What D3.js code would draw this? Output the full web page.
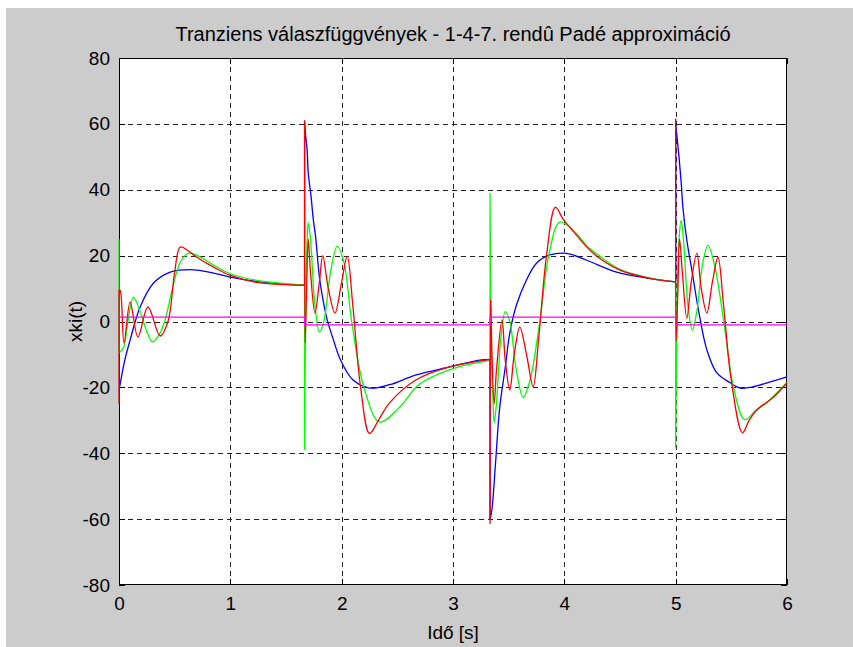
<!DOCTYPE html>
<html>
<head>
<meta charset="utf-8">
<script src="https://cdn.jsdelivr.net/npm/d3@7"></script>
<style>
  body { margin: 0; background: #fff; }
  text { font-family: "Liberation Sans", Arial, sans-serif; fill: #000; }
</style>
</head>
<body>
<svg id="chart" width="853" height="647"></svg>
<script>
// tick values
const xTicks = [0, 1, 2, 3, 4, 5, 6];
const yTicks = [-80, -60, -40, -20, 0, 20, 40, 60, 80];

// [t, value]
const inputData = [[0, 1.3], [1.667, 1.3], [1.667, -1], [3.333, -1], [3.333, 1.3], [5, 1.3], [5, -1], [6, -1]];

const blueData = [
  [0, -21], [0.05, -12], [0.1, -5.6], [0.19, 4.4], [0.31, 11.7], [0.46, 15], [0.6, 15.7], [0.7, 15.6],
  [0.85, 14.7], [1.0, 13.5], [1.27, 12], [1.5, 11.3], [1.667, 11],
  [1.667, 61], [1.675, 57], [1.69, 52], [1.70, 45], [1.725, 38], [1.745, 31], [1.765, 26], [1.80, 13.5],
  [1.83, 7], [1.87, 0.5], [1.93, -6], [1.99, -11.7], [2.1, -17.7], [2.25, -20.2], [2.43, -19.2],
  [2.67, -16.2], [2.97, -13.8], [3.24, -11.7], [3.333, -11.5],
  [3.333, -60], [3.35, -57], [3.38, -44], [3.42, -26], [3.47, -13.8], [3.51, -3.5], [3.57, 5],
  [3.66, 12.6], [3.75, 17.7], [3.87, 20.2], [4.02, 20.7], [4.2, 18.6], [4.47, 15], [4.74, 13.2], [5.0, 12],
  [5.0, 60], [5.03, 50], [5.05, 42], [5.065, 34.7], [5.1, 24.7], [5.15, 14.7], [5.2, 4.4], [5.28, -8.6],
  [5.37, -15.6], [5.49, -18.6], [5.58, -20.2], [5.70, -19.8], [5.85, -18.3], [6, -16.8]
];

const greenData = [
  [0, 25], [0, -9.5], [0.04, -8], [0.08, 0], [0.13, 7.4], [0.19, 3], [0.25, -3], [0.3, -6.2],
  [0.36, -4], [0.41, 0], [0.48, 10], [0.55, 18], [0.62, 20.7], [0.72, 19.8], [0.82, 17.7], [1.0, 14.5],
  [1.27, 12.3], [1.5, 11.5], [1.667, 11],
  [1.667, -39], [1.675, -5], [1.69, 25], [1.70, 30], [1.72, 25], [1.76, 5], [1.80, -3.2], [1.84, 0],
  [1.9, 15], [1.96, 22.9], [2.02, 18], [2.09, 0], [2.2, -20], [2.34, -30.5], [2.52, -26], [2.7, -19],
  [3.0, -14.3], [3.333, -11.8],
  [3.333, 39], [3.34, 5], [3.36, -25], [3.37, -30.7], [3.39, -25], [3.43, -5], [3.47, 3], [3.51, 0],
  [3.57, -15], [3.63, -23], [3.69, -18], [3.78, 0], [3.86, 20], [3.96, 30.2], [4.1, 27], [4.2, 23],
  [4.3, 20.3], [4.5, 15.8], [4.77, 13.2], [5.0, 12],
  [5.0, -38.3], [5.01, -5], [5.03, 25], [5.05, 30.7], [5.07, 25], [5.11, 5], [5.15, -2.6], [5.19, 3],
  [5.24, 17], [5.29, 23.2], [5.35, 17], [5.43, 0.5], [5.52, -20], [5.62, -29.8], [5.72, -27],
  [5.82, -24.7], [5.9, -22], [6, -18.6]
];

const redData = [
  [0, -25], [0, 9.5], [0.01, 9.5], [0.045, -6.5], [0.10, 5.9], [0.17, -4.7], [0.26, 4.4],
  [0.37, -4.4], [0.44, 0], [0.5, 15], [0.55, 22.6], [0.62, 21.5], [0.7, 19.5], [0.85, 16.5],
  [1.0, 14], [1.27, 11.7], [1.5, 11.2], [1.667, 11],
  [1.667, 61], [1.672, -6.5], [1.685, 10], [1.70, 25], [1.72, 15], [1.76, 2.6], [1.80, 12], [1.83, 20],
  [1.88, 10], [1.94, 2.6], [2.0, 12], [2.05, 19.8], [2.1, 5], [2.17, -20], [2.25, -34], [2.33, -30],
  [2.43, -24.7], [2.67, -17.7], [2.97, -13.8], [3.333, -11.5],
  [3.333, -61.5], [3.338, 6.5], [3.35, -10], [3.37, -25], [3.39, -15], [3.44, 0.5], [3.47, -12],
  [3.51, -20.8], [3.55, -10], [3.6, -1.7], [3.66, -10], [3.72, -19.8], [3.77, -5], [3.84, 20],
  [3.92, 34.7], [3.99, 31], [4.05, 28.6], [4.26, 20.7], [4.5, 15.6], [4.77, 13.1], [5.0, 12],
  [5.0, 61.6], [5.005, -6], [5.02, 10], [5.035, 25], [5.06, 15], [5.1, 1], [5.14, 12], [5.19, 20.7],
  [5.23, 10], [5.28, 2.6], [5.33, 12], [5.38, 19.5], [5.43, 5], [5.5, -18], [5.6, -33.8], [5.66, -30],
  [5.73, -26.8], [5.88, -22.9], [6, -18.6]
];

const titleText = "Tranziens válaszfüggvények - 1-4-7. rendû Padé approximáció";
const xLabel = "Idő [s]";
const yLabel = "xki(t)";

const m = { left: 119, right: 787, top: 58, bottom: 585 };

const svg = d3.select("#chart");

// figure background
svg.append("rect").attr("x", 6).attr("y", 8).attr("width", 847).attr("height", 639).attr("fill", "#cccccc");
svg.append("rect").attr("x", m.left).attr("y", m.top).attr("width", m.right - m.left).attr("height", m.bottom - m.top).attr("fill", "#fff");

const x = d3.scaleLinear().domain([0, 6]).range([m.left, m.right]);
const y = d3.scaleLinear().domain([-80, 80]).range([m.bottom, m.top]);

// dashed grid
const grid = svg.append("g").attr("stroke", "#222").attr("stroke-width", 1).attr("stroke-dasharray", "5,4").attr("shape-rendering", "crispEdges");
grid.selectAll(".gx").data(xTicks.slice(1, -1)).join("line")
  .attr("x1", d => Math.round(x(d)) + 0.5).attr("x2", d => Math.round(x(d)) + 0.5)
  .attr("y1", m.top).attr("y2", m.bottom);
grid.selectAll(".gy").data(yTicks.slice(1, -1)).join("line")
  .attr("y1", d => Math.round(y(d)) + 0.5).attr("y2", d => Math.round(y(d)) + 0.5)
  .attr("x1", m.left).attr("x2", m.right);

// axes, inward ticks on all four sides
const fmt = d => String(d);
svg.append("g").attr("transform", `translate(0,${m.bottom})`)
  .call(d3.axisBottom(x).tickValues(xTicks).tickSize(-6).tickPadding(12).tickFormat(fmt));
svg.append("g").attr("transform", `translate(${m.left},0)`)
  .call(d3.axisLeft(y).tickValues(yTicks).tickSize(-6).tickPadding(9).tickFormat(fmt));
svg.append("g").attr("transform", `translate(0,${m.top})`)
  .call(d3.axisTop(x).tickValues(xTicks).tickSize(-6).tickFormat(""));
svg.append("g").attr("transform", `translate(${m.right},0)`)
  .call(d3.axisRight(y).tickValues(yTicks).tickSize(-6).tickFormat(""));
svg.selectAll(".domain").remove();
svg.selectAll(".tick line").attr("stroke", "#000").attr("shape-rendering", "crispEdges");
svg.selectAll(".tick text").attr("font-size", 19).attr("font-family", "'Liberation Sans', Arial, sans-serif");

// axes box
svg.append("rect").attr("x", m.left + 0.5).attr("y", m.top + 0.5).attr("width", m.right - m.left - 1).attr("height", m.bottom - m.top - 1)
  .attr("fill", "none").attr("stroke", "#000").attr("stroke-width", 1).attr("shape-rendering", "crispEdges");

// split a series at its vertical jumps (equal t), smooth each piece, join with straight jumps
const smooth = d3.line().x(d => x(d[0])).y(d => y(d[1])).curve(d3.curveCatmullRom.alpha(0.5));
const straight = d3.line().x(d => x(d[0])).y(d => y(d[1]));
function jumpPath(data) {
  const pieces = [[data[0]]];
  for (let i = 1; i < data.length; i++) {
    if (data[i][0] === data[i - 1][0]) pieces.push([]);
    pieces[pieces.length - 1].push(data[i]);
  }
  let d = "";
  pieces.forEach((p, i) => {
    if (i > 0) {
      const prev = pieces[i - 1][pieces[i - 1].length - 1];
      d += straight([prev, p[0]]);
    }
    if (p.length > 1) d += smooth(p);
  });
  return d;
}

const series = [
  { data: blueData, color: "#0000ff", path: jumpPath },
  { data: greenData, color: "#00ff00", path: jumpPath },
  { data: redData, color: "#ff0000", path: jumpPath },
  { data: inputData, color: "#ff00ff", path: straight }
];
svg.append("g").selectAll("path").data(series).join("path")
  .attr("d", d => d.path(d.data))
  .attr("fill", "none")
  .attr("stroke", d => d.color)
  .attr("stroke-width", 1.3);

// texts
svg.append("text").attr("x", (m.left + m.right) / 2).attr("y", 41).attr("text-anchor", "middle")
  .attr("font-size", 20).text(titleText);
svg.append("text").attr("x", (m.left + m.right) / 2).attr("y", 639).attr("text-anchor", "middle")
  .attr("font-size", 19).text(xLabel);
svg.append("text").attr("transform", `translate(82,${(m.top + m.bottom) / 2}) rotate(-90)`).attr("text-anchor", "middle")
  .attr("font-size", 19).text(yLabel);
</script>
</body>
</html>
